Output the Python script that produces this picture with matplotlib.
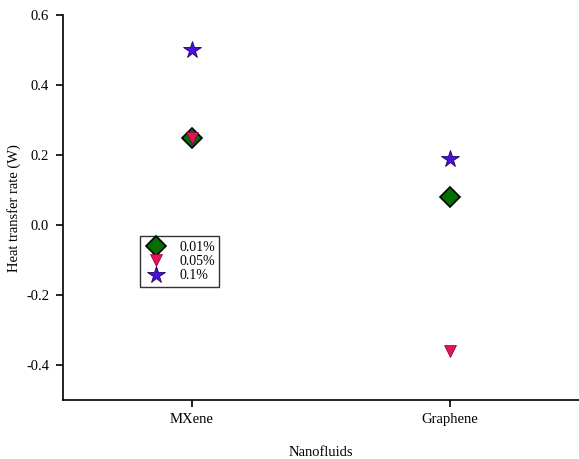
import numpy as np
import matplotlib
matplotlib.use('Agg')
import matplotlib.pyplot as plt

# Heat transfer rate (W) per nanofluid and concentration
nanofluids = ['MXene', 'Graphene']
conc_001 = [0.25, 0.08]
conc_005 = [0.25, -0.36]
conc_01 = [0.50, 0.19]
yticks = [-0.4, -0.2, 0.0, 0.2, 0.4, 0.6]

plt.rcParams['font.family'] = ['Liberation Serif', 'DejaVu Serif']

fig = plt.figure(figsize=(5.79, 4.59), dpi=100)
ax = fig.add_axes([0.1088, 0.1285, 0.8912, 0.8385])

x = np.arange(1, len(nanofluids) + 1)

ax.plot(x, conc_001, linestyle='none', marker='D', markersize=10,
        markerfacecolor='#007000', markeredgecolor='black', markeredgewidth=1.2,
        label='0.01%', zorder=3)
ax.plot(x, conc_005, linestyle='none', marker='v', markersize=9,
        markerfacecolor='#E0145A', markeredgecolor='#8a0030', markeredgewidth=0.5,
        label='0.05%', zorder=4)
ax.plot(x, conc_01, linestyle='none', marker='*', markersize=13,
        markerfacecolor='#4A10E0', markeredgecolor='#200060', markeredgewidth=0.6,
        label='0.1%', zorder=3)

ax.set_xlim(0.5, 2.5)
ax.set_ylim(-0.5, 0.6)
ax.set_xticks(x)
ax.set_xticklabels(nanofluids)
ax.set_yticks(yticks)
ax.set_yticklabels([f'{v:.1f}' for v in yticks])

for side in ['top', 'right']:
    ax.spines[side].set_visible(False)
for side in ['left', 'bottom']:
    ax.spines[side].set_linewidth(1.2)
ax.tick_params(axis='both', direction='out', length=5, width=1.2,
               labelsize=10.5, pad=5)
ax.tick_params(axis='x', pad=4)

ax.set_xlabel('Nanofluids', fontsize=10.5, labelpad=15)
ax.set_ylabel('Heat transfer rate (W)', fontsize=10.5)
ax.yaxis.set_label_coords(-0.082, 0.5)

leg = ax.legend(loc='upper left', bbox_to_anchor=(0.15, 0.425), fontsize=10,
                frameon=True, fancybox=False, edgecolor='black',
                handletextpad=0.9, borderpad=0.3, labelspacing=0.1,
                handlelength=1.6, borderaxespad=0)
leg.get_frame().set_linewidth(1.0)

fig.savefig('out.png', dpi=100)
